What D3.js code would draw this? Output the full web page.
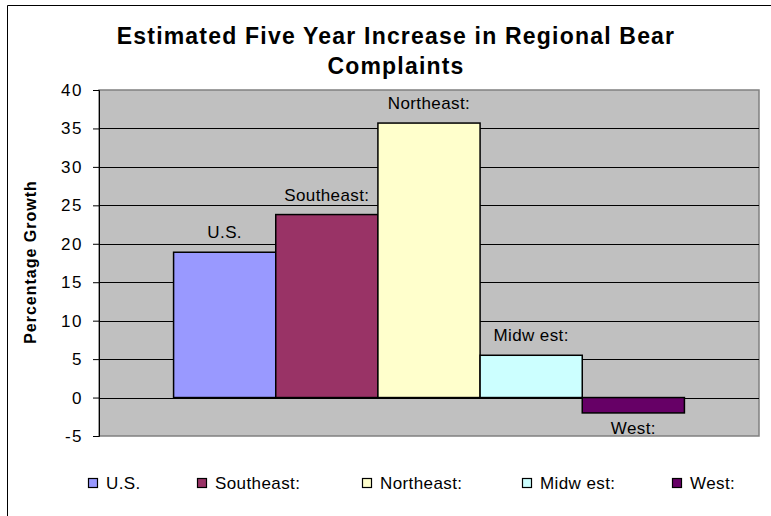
<!DOCTYPE html>
<html>
<head>
<meta charset="utf-8">
<script src="https://cdn.jsdelivr.net/npm/d3@7"></script>
<style>
  body { margin: 0; background: #fff; }
  svg text { font-family: "Liberation Sans", Arial, sans-serif; fill: #000; }
</style>
</head>
<body>
<div id="chart"></div>
<script>
// data
var regions = ["U.S.", "Southeast:", "Northeast:", "Midw est:", "West:"];
var growth = [18.9, 23.8, 35.7, 5.5, -2.0];
var barColors = ["#9999ff", "#993366", "#ffffcc", "#ccffff", "#660066"];
var yTicks = [-5, 0, 5, 10, 15, 20, 25, 30, 35, 40];
var titleLines = ["Estimated Five Year Increase in Regional Bear", "Complaints"];
var legendX = [88, 197, 362, 522, 672];

var fullWidth = 771;
var fullHeight = 516;
var plot = { left: 99, right: 759, top: 90, bottom: 436 };

var svg = d3.select("#chart").append("svg")
    .attr("width", fullWidth)
    .attr("height", fullHeight);

// outer chart frame (runs off the right and bottom edges)
svg.append("path")
    .attr("d", "M7.5,520 V5.5 H780")
    .attr("fill", "none")
    .attr("stroke", "#000")
    .attr("stroke-width", 1);

// title
svg.append("g").selectAll("text")
    .data(titleLines)
    .enter()
    .append("text")
    .attr("x", 396)
    .attr("y", (d, i) => 44 + i * 30)
    .attr("text-anchor", "middle")
    .style("font-size", "23px")
    .style("font-weight", "bold")
    .style("letter-spacing", "1.2px")
    .text(d => d);

// scales
var x = d3.scaleBand()
    .domain(regions)
    .range([plot.left, plot.right])
    .paddingInner(0)
    .paddingOuter(0.73);

var y = d3.scaleLinear()
    .domain([-5, 40])
    .range([plot.bottom, plot.top]);

// plot area
svg.append("rect")
    .attr("x", plot.left)
    .attr("y", plot.top)
    .attr("width", plot.right - plot.left)
    .attr("height", plot.bottom - plot.top)
    .attr("fill", "#c0c0c0")
    .attr("stroke", "#808080")
    .attr("stroke-width", 1.5);

// gridlines
svg.append("g").selectAll("line")
    .data(yTicks.filter(d => d > -5 && d < 40))
    .enter()
    .append("line")
    .attr("x1", plot.left)
    .attr("x2", plot.right)
    .attr("y1", d => Math.round(y(d)) + 0.5)
    .attr("y2", d => Math.round(y(d)) + 0.5)
    .attr("stroke", "#000")
    .attr("stroke-width", 1);

// y axis (plain hyphen for negatives, like the original)
var yAxis = svg.append("g")
    .attr("transform", "translate(" + plot.left + ",0)")
    .call(d3.axisLeft(y).tickValues(yTicks).tickFormat(d => String(d)).tickSize(6).tickPadding(10));
yAxis.select(".domain").attr("stroke", "#000");
yAxis.selectAll(".tick line").attr("stroke", "#000");
yAxis.selectAll(".tick text")
    .style("font-size", "17px")
    .style("letter-spacing", "1.5px")
    .attr("fill", "#000");

// y axis title
svg.append("text")
    .attr("transform", "translate(36,262) rotate(-90)")
    .attr("text-anchor", "middle")
    .style("font-size", "16px")
    .style("font-weight", "bold")
    .style("letter-spacing", "1px")
    .text("Percentage Growth");

// bars
svg.append("g").selectAll("rect")
    .data(growth)
    .enter()
    .append("rect")
    .attr("x", (d, i) => x(regions[i]))
    .attr("y", d => y(Math.max(0, d)))
    .attr("width", x.bandwidth())
    .attr("height", d => Math.abs(y(d) - y(0)))
    .attr("fill", (d, i) => barColors[i])
    .attr("stroke", "#000")
    .attr("stroke-width", 1.5);

// bar labels
svg.append("g").selectAll("text")
    .data(growth)
    .enter()
    .append("text")
    .attr("x", (d, i) => x(regions[i]) + x.bandwidth() / 2)
    .attr("y", d => d >= 0 ? y(d) - 14 : y(d) + 21)
    .attr("text-anchor", "middle")
    .style("font-size", "17px")
    .style("letter-spacing", "0.4px")
    .text((d, i) => regions[i]);

// legend
var legend = svg.append("g").selectAll("g")
    .data(regions)
    .enter()
    .append("g")
    .attr("transform", (d, i) => "translate(" + legendX[i] + ",478)");
legend.append("rect")
    .attr("x", 0.5)
    .attr("y", 0.5)
    .attr("width", 9)
    .attr("height", 9)
    .attr("fill", (d, i) => barColors[i])
    .attr("stroke", "#000")
    .attr("stroke-width", 1.2);
legend.append("text")
    .attr("x", 18)
    .attr("y", 11)
    .style("font-size", "17px")
    .style("letter-spacing", "0.4px")
    .text(d => d);
</script>
</body>
</html>
